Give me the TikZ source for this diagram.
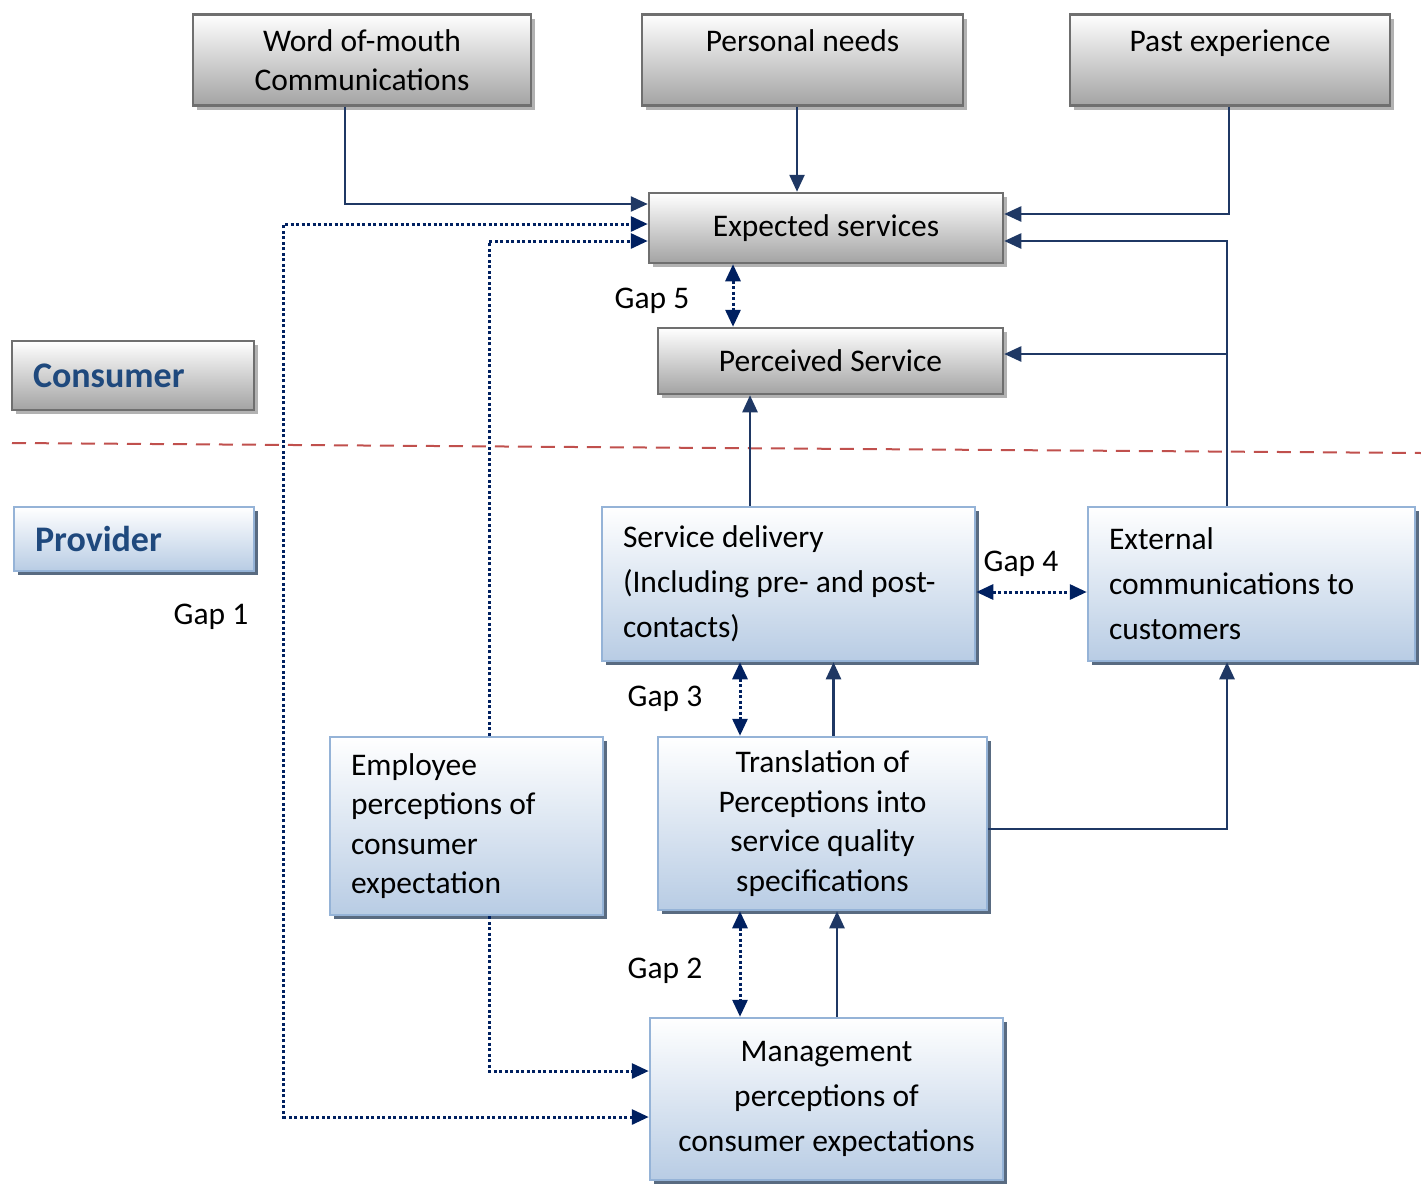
\documentclass[tikz,border=0pt]{standalone}
\usepackage{fontspec}
\setmainfont{Carlito}
\usetikzlibrary{arrows.meta,shadows}

\definecolor{arrowblue}{HTML}{1F3864}
\definecolor{dotblue}{HTML}{002060}
\definecolor{labelblue}{HTML}{1F497D}
\definecolor{boxedge}{HTML}{95B3D7}
\definecolor{boxfill}{HTML}{B8CCE4}
\definecolor{grayedge}{HTML}{6F6F6F}
\definecolor{grayfill}{HTML}{A3A3A3}
\definecolor{divred}{HTML}{C0504D}

\tikzset{
  textsize/.style={font=\fontsize{31.5}{39.5}\selectfont},
  widesize/.style={font=\fontsize{31.5}{45}\selectfont},
  graybox/.style={draw=grayedge, line width=2.5pt, top color=white, bottom color=grayfill,
    drop shadow={shadow xshift=4pt, shadow yshift=-4pt, fill=black!30, opacity=1},
    inner sep=0pt, align=center, textsize},
  bluebox/.style={draw=boxedge, line width=2.5pt, top color=white, bottom color=boxfill,
    drop shadow={shadow xshift=4pt, shadow yshift=-4pt, fill=black!40!boxedge, opacity=1},
    inner sep=0pt, textsize},
  sidebox/.style={inner xsep=21pt, inner ysep=0pt, text width=#1, align=flush left},
  flow/.style={draw=arrowblue, line width=2.5pt, -{Triangle[length=17pt,width=15pt]}},
  gap/.style={draw=dotblue, line width=3pt, dash pattern=on 3pt off 2.5pt,
    {Triangle[length=17pt,width=15pt]}-{Triangle[length=17pt,width=15pt]}},
  gapto/.style={draw=dotblue, line width=3pt, dash pattern=on 3pt off 2.5pt,
    -{Triangle[length=17pt,width=15pt]}},
  gaplabel/.style={textsize, inner sep=0pt}
}

\begin{document}
\begin{tikzpicture}[x=1pt,y=-1pt]
\useasboundingbox (0,0) rectangle (1421,1183);

% consumer side
\node[graybox, minimum width=338pt, minimum height=91pt] (wom) at (362,60) {Word of-mouth\\Communications};
\node[graybox, minimum width=321pt, minimum height=91pt] (pneeds) at (802.5,60) {Personal needs\\\mbox{}};
\node[graybox, minimum width=320pt, minimum height=91pt] (pexp) at (1230,60) {Past experience\\\mbox{}};

\node[graybox, minimum width=354pt, minimum height=70pt] (expected) at (826,228) {Expected services};
\node[graybox, minimum width=345pt, minimum height=66pt] (perceived) at (830.5,361) {Perceived Service};

\node[graybox, sidebox=200pt, minimum height=69pt, font=\fontsize{36}{40}\selectfont\bfseries,
  text=labelblue] (consumer) at (133,375.5) {Consumer};

% divider
\draw[divred, line width=2pt, dash pattern=on 14pt off 9pt] (12,443) -- (1421,453);

% provider side
\node[bluebox, sidebox=198pt, minimum height=64pt, font=\fontsize{36}{40}\selectfont\bfseries,
  text=labelblue] (provider) at (134,539) {Provider};

\node[bluebox, widesize, sidebox=331pt, minimum height=154pt] (delivery) at (788.5,584)
  {Service delivery\\(Including pre- and post-\\contacts)};
\node[bluebox, widesize, sidebox=285pt, minimum height=154pt] (ext) at (1251.5,584)
  {External\\communications to\\customers};

\node[bluebox, sidebox=231pt, minimum height=178pt] (emp) at (466.5,826)
  {Employee\\perceptions of\\consumer\\expectation};
\node[bluebox, align=center, minimum width=329pt, minimum height=173pt] (trans) at (822.5,823.5)
  {Translation of\\Perceptions into\\service quality\\specifications};
\node[bluebox, widesize, align=center, minimum width=353pt, minimum height=162pt] (mgmt) at (826.5,1099)
  {Management\\perceptions of\\consumer expectations};

% gap labels
\node[gaplabel] (gap1) at (211,617) {Gap 1};
\node[gaplabel] (gap2) at (665,971) {Gap 2};
\node[gaplabel] (gap3) at (665,699) {Gap 3};
\node[gaplabel] (gap4) at (1021,564) {Gap 4};
\node[gaplabel] (gap5) at (652,301) {Gap 5};

% helper points
\coordinate (pn-out) at ([xshift=-5.5pt]pneeds.south);
\coordinate (ext-up) at ([xshift=-24.5pt]ext.north);
\coordinate (perc-in) at ([yshift=7pt]perceived.east);
\coordinate (deliv-out) at ([xshift=-38.5pt]delivery.north);
\coordinate (g5) at ([xshift=-93pt]expected.south);
\coordinate (g4) at ([yshift=-8pt]delivery.east);
\coordinate (g3) at ([xshift=-48.5pt]delivery.south);
\coordinate (tr-out) at ([xshift=11pt]trans.north);
\coordinate (g2) at ([xshift=-82.5pt]trans.south);
\coordinate (mg-out) at ([xshift=10.5pt]mgmt.north);

% solid connectors
\draw[flow] ([xshift=-17pt]wom.south) |- ([yshift=24pt]expected.west);
\draw[flow] (pn-out) -- (pn-out |- expected.north);
\draw[flow] ([xshift=-1pt]pexp.south) |- ([yshift=14pt]expected.east);
\draw[flow] (ext-up) |- ([yshift=-13pt]expected.east);
\draw[flow] (ext-up |- perc-in) -- (perc-in);
\draw[flow] (deliv-out) -- (deliv-out |- perceived.south);
\draw[flow] (tr-out) -- (tr-out |- delivery.south);
\draw[flow] ([yshift=-5.5pt]trans.east) -| (ext-up |- ext.south);
\draw[flow] (mg-out) -- (mg-out |- trans.south);

% gaps
\draw[gap] (g5) -- (g5 |- perceived.north);
\draw[gap] (g4) -- (g4 -| ext.west);
\draw[gap] (g3) -- (g3 |- trans.north);
\draw[gap] (g2) -- (g2 |- mgmt.north);
\draw[gapto] ([xshift=22.5pt]emp.north) |- ([yshift=-13pt]expected.west);
\draw[gapto] ([xshift=22.5pt]emp.south) |- ([yshift=28pt]mgmt.west);
\draw[gap] ([yshift=-18pt]mgmt.west) -- ++(-365,0) |- ([yshift=4pt]expected.west);

\end{tikzpicture}
\end{document}
